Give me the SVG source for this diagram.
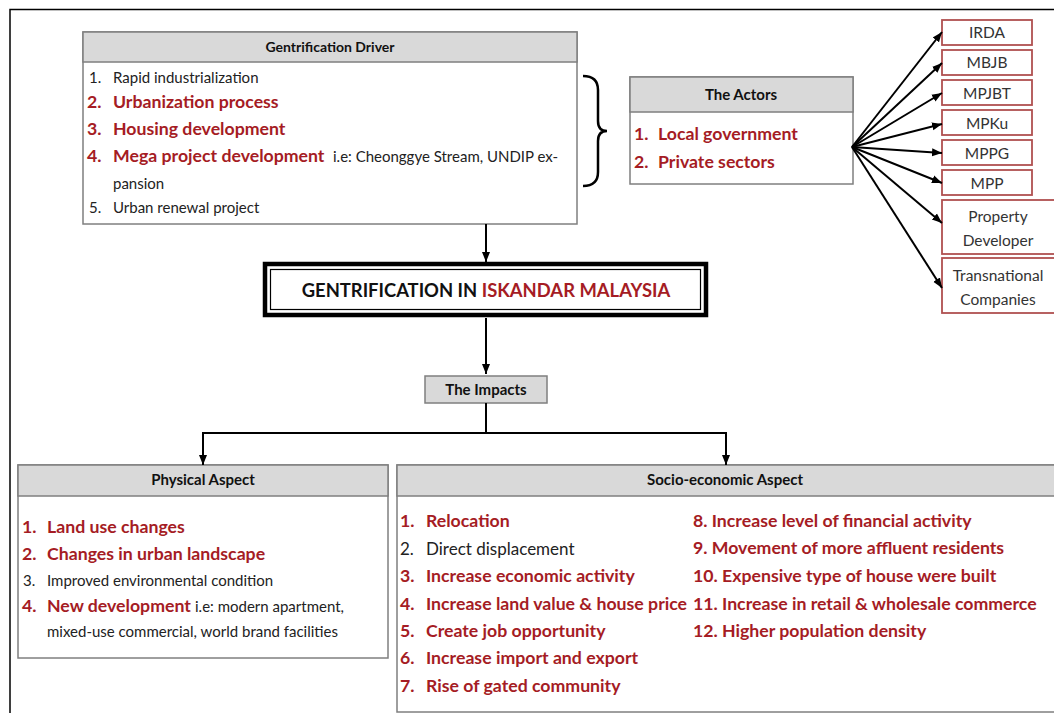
<svg xmlns="http://www.w3.org/2000/svg" width="1054" height="713" viewBox="0 0 1054 713">
<defs>
<style>
text{font-family:Lato,"Liberation Sans",sans-serif;fill:#222}
.hd{font-size:15px;font-weight:bold;text-anchor:middle;fill:#111}
.n{font-size:15px}
.r{font-size:17.7px;font-weight:bold;fill:#a51c24}
.box{fill:#fff;stroke:#7f7f7f;stroke-width:1.5}
.hdr{fill:#d9d9d9;stroke:#7f7f7f;stroke-width:1.5}
.ac{fill:#fff;stroke:#b05050;stroke-width:1.8}
.act{font-size:15.5px;text-anchor:middle;fill:#333}
.ln{fill:none;stroke:#000;stroke-width:2}
</style>
<marker id="ah" markerUnits="userSpaceOnUse" markerWidth="10" markerHeight="10" viewBox="0 0 10 10" refX="10" refY="5" orient="auto">
<path d="M0,1 L10,5 L0,9 Z" fill="#000"/>
</marker>
</defs>
<rect width="1054" height="713" fill="#fff"/>
<path d="M10,713 V9.5 H1054" fill="none" stroke="#000" stroke-width="1.5"/>

<g id="driver">
<rect class="box" x="83" y="32" width="494" height="192"/>
<rect class="hdr" x="83" y="32" width="494" height="30"/>
<text class="hd" x="330" y="52" style="font-size:14px">Gentrification Driver</text>
<text class="n" x="89" y="83">1.</text><text class="n" x="113" y="83">Rapid industrialization</text>
<text class="r" x="87" y="108">2.</text><text class="r" x="113" y="108">Urbanization process</text>
<text class="r" x="87" y="135">3.</text><text class="r" x="113" y="135">Housing development</text>
<text class="r" x="87" y="162">4.</text><text class="r" x="113" y="162">Mega project development</text>
<text class="n" x="333" y="162">i.e: Cheonggye Stream, UNDIP ex-</text>
<text class="n" x="113" y="189">pansion</text>
<text class="n" x="89" y="213">5.</text><text class="n" x="113" y="213">Urban renewal project</text>
</g>

<g id="brace">
<path d="M583,76 Q598,76 598,90 V121 Q598,131 607,131 Q598,131 598,141 V172 Q598,186 583,186" fill="none" stroke="#000" stroke-width="2.5"/>
</g>

<g id="actors">
<rect class="box" x="630" y="77" width="223" height="107"/>
<rect class="hdr" x="630" y="77" width="223" height="35"/>
<text class="hd" x="741" y="100">The Actors</text>
<text class="r" x="634" y="140">1.</text><text class="r" x="658" y="140">Local government</text>
<text class="r" x="634" y="168">2.</text><text class="r" x="658" y="168">Private sectors</text>
</g>

<g id="irda"><rect class="ac" x="942" y="20" width="90" height="25"/><text class="act" x="987" y="38">IRDA</text></g>
<g id="mbjb"><rect class="ac" x="942" y="50" width="90" height="25"/><text class="act" x="987" y="68">MBJB</text></g>
<g id="mpjbt"><rect class="ac" x="942" y="80" width="90" height="25"/><text class="act" x="987" y="99">MPJBT</text></g>
<g id="mpku"><rect class="ac" x="942" y="110" width="90" height="25"/><text class="act" x="987" y="129">MPKu</text></g>
<g id="mppg"><rect class="ac" x="942" y="140" width="90" height="25"/><text class="act" x="987" y="159">MPPG</text></g>
<g id="mpp"><rect class="ac" x="942" y="170" width="90" height="25"/><text class="act" x="987" y="189">MPP</text></g>
<g id="property"><rect class="ac" x="942" y="200" width="120" height="54"/><text class="act" x="998" y="222">Property</text><text class="act" x="998" y="246">Developer</text></g>
<g id="transnational"><rect class="ac" x="942" y="258" width="120" height="55"/><text class="act" x="998" y="281">Transnational</text><text class="act" x="998" y="305">Companies</text></g>

<g id="title">
<rect x="265" y="264" width="441" height="51" fill="#fff" stroke="#000" stroke-width="4.5"/>
<rect x="270.5" y="269.5" width="430" height="40" fill="none" stroke="#000" stroke-width="1.2"/>
<text x="486" y="297" style="font-size:18.4px;font-weight:bold;text-anchor:middle;fill:#111">GENTRIFICATION IN <tspan fill="#a51c24">ISKANDAR MALAYSIA</tspan></text>
</g>

<g id="impacts">
<rect class="hdr" x="425" y="376" width="122" height="27"/>
<text class="hd" x="486" y="395">The Impacts</text>
</g>

<g id="physical">
<rect class="box" x="18" y="465" width="370" height="193"/>
<rect class="hdr" x="18" y="465" width="370" height="31"/>
<text class="hd" x="203" y="485">Physical Aspect</text>
<text class="r" x="22" y="533">1.</text><text class="r" x="47" y="533">Land use changes</text>
<text class="r" x="22" y="560">2.</text><text class="r" x="47" y="560">Changes in urban landscape</text>
<text class="n" x="23" y="586">3.</text><text class="n" x="47" y="586">Improved environmental condition</text>
<text class="r" x="22" y="612">4.</text><text class="r" x="47" y="612">New development</text>
<text class="n" x="195" y="612">i.e: modern apartment,</text>
<text class="n" x="47" y="637">mixed-use commercial, world brand facilities</text>
</g>

<g id="socio">
<rect class="box" x="397" y="465" width="670" height="247"/>
<rect class="hdr" x="397" y="465" width="670" height="31"/>
<text class="hd" x="725" y="485">Socio-economic Aspect</text>
<text class="r" x="400" y="527">1.</text><text class="r" x="426" y="527">Relocation</text>
<text x="400" y="555" style="font-size:17px">2.</text><text x="426" y="555" style="font-size:17px">Direct displacement</text>
<text class="r" x="400" y="582">3.</text><text class="r" x="426" y="582">Increase economic activity</text>
<text class="r" x="400" y="610">4.</text><text class="r" x="426" y="610">Increase land value &amp; house price</text>
<text class="r" x="400" y="637">5.</text><text class="r" x="426" y="637">Create job opportunity</text>
<text class="r" x="400" y="664">6.</text><text class="r" x="426" y="664">Increase import and export</text>
<text class="r" x="400" y="692">7.</text><text class="r" x="426" y="692">Rise of gated community</text>
<text class="r" x="693" y="527">8. Increase level of financial activity</text>
<text class="r" x="693" y="554">9. Movement of more affluent residents</text>
<text class="r" x="693" y="582">10. Expensive type of house were built</text>
<text class="r" x="693" y="610">11. Increase in retail &amp; wholesale commerce</text>
<text class="r" x="693" y="637">12. Higher population density</text>
</g>

<g id="connectors">
<path class="ln" d="M486,224 V262" marker-end="url(#ah)"/>
<path class="ln" d="M486,318 V374" marker-end="url(#ah)"/>
<path class="ln" d="M486,403 V433 H726 V465" marker-end="url(#ah)"/>
<path class="ln" d="M486,433 H203 V465" marker-end="url(#ah)"/>
<path class="ln" d="M852,147 L942,32" marker-end="url(#ah)"/>
<path class="ln" d="M852,147 L942,63" marker-end="url(#ah)"/>
<path class="ln" d="M852,147 L942,93" marker-end="url(#ah)"/>
<path class="ln" d="M852,147 L942,124" marker-end="url(#ah)"/>
<path class="ln" d="M852,147 L942,153" marker-end="url(#ah)"/>
<path class="ln" d="M852,147 L942,183" marker-end="url(#ah)"/>
<path class="ln" d="M852,147 L942,223" marker-end="url(#ah)"/>
<path class="ln" d="M852,147 L942,288" marker-end="url(#ah)"/>
</g>
</svg>
